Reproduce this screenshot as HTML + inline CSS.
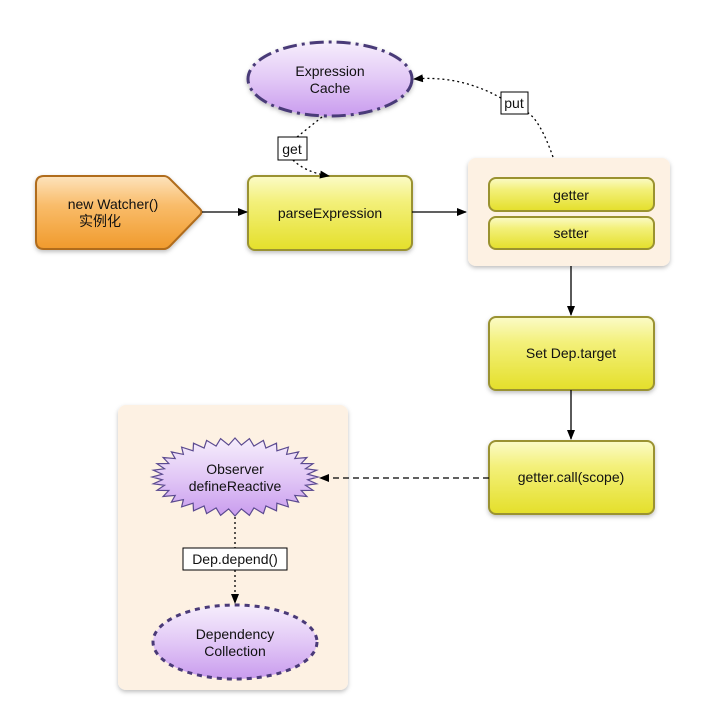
<!DOCTYPE html>
<html><head><meta charset="utf-8"><style>
html,body{margin:0;padding:0;background:#fff;}
svg{display:block;}
text{font-family:"Liberation Sans","Noto Sans CJK SC",sans-serif;font-size:14px;fill:#111;text-anchor:middle;}
</style></head><body>
<svg id="s" width="720" height="724" viewBox="0 0 720 724" xmlns="http://www.w3.org/2000/svg">
<defs>
<linearGradient id="yel" x1="0" y1="0" x2="0" y2="1">
<stop offset="0" stop-color="#fbfbc8"/><stop offset="0.35" stop-color="#f3f07a"/><stop offset="1" stop-color="#e4df2a"/></linearGradient>
<linearGradient id="org" x1="0" y1="0" x2="0" y2="1">
<stop offset="0" stop-color="#fde3bd"/><stop offset="0.4" stop-color="#f9bc6a"/><stop offset="1" stop-color="#f09a2c"/></linearGradient>
<linearGradient id="pur" x1="0" y1="0" x2="0" y2="1">
<stop offset="0" stop-color="#f6eefc"/><stop offset="0.5" stop-color="#e2c8f6"/><stop offset="1" stop-color="#c99cee"/></linearGradient>
<marker id="ah" markerWidth="10" markerHeight="8" refX="9" refY="4" orient="auto" markerUnits="userSpaceOnUse">
<path d="M0,0 L10,4 L0,8 z" fill="#000"/></marker>
<filter id="sh" x="-10%" y="-10%" width="120%" height="130%"><feDropShadow dx="0" dy="2" stdDeviation="2" flood-color="#000" flood-opacity="0.25"/></filter>
</defs>

<rect x="468" y="158" width="202" height="108" rx="8" fill="#fdf1e3" filter="url(#sh)"/>
<rect x="118" y="405" width="230" height="285" rx="8" fill="#fdf1e3" filter="url(#sh)"/>

<ellipse cx="330" cy="79" rx="82" ry="37" fill="url(#pur)" stroke="#4a3a78" stroke-width="3" stroke-dasharray="14,5,3,5" filter="url(#sh)"/>
<text x="330" y="76">Expression</text><text x="330" y="93">Cache</text>

<path d="M44,176 L164,176 Q167,176 170,179 L200,209 Q203,212 200,215 L170,246 Q167,249 164,249 L44,249 Q36,249 36,241 L36,184 Q36,176 44,176 z" fill="url(#org)" stroke="#b06c1c" stroke-width="2" filter="url(#sh)"/>
<text x="113" y="209">new Watcher()</text><text x="100" y="226">实例化</text>

<rect x="248" y="176" width="164" height="74" rx="7" fill="url(#yel)" stroke="#9a9230" stroke-width="2" filter="url(#sh)"/>
<text x="330" y="218">parseExpression</text>

<rect x="489" y="178" width="165" height="33" rx="7" fill="url(#yel)" stroke="#9a9230" stroke-width="2"/>
<text x="571" y="200">getter</text>
<rect x="489" y="217" width="165" height="32" rx="7" fill="url(#yel)" stroke="#9a9230" stroke-width="2"/>
<text x="571" y="238">setter</text>

<rect x="489" y="317" width="165" height="73" rx="7" fill="url(#yel)" stroke="#9a9230" stroke-width="2" filter="url(#sh)"/>
<text x="571" y="358">Set Dep.target</text>

<rect x="489" y="441" width="165" height="73" rx="7" fill="url(#yel)" stroke="#9a9230" stroke-width="2" filter="url(#sh)"/>
<text x="571" y="482">getter.call(scope)</text>

<polygon id="star" fill="url(#pur)" stroke="#5b4a90" stroke-width="1.2" points=""/>
<text x="235" y="474">Observer</text><text x="235" y="491">defineReactive</text>

<ellipse cx="235" cy="642" rx="82" ry="37" fill="url(#pur)" stroke="#4a3a78" stroke-width="3" stroke-dasharray="5,5"/>
<text x="235" y="639">Dependency</text><text x="235" y="656">Collection</text>

<line x1="202" y1="212" x2="247" y2="212" stroke="#000" stroke-width="1.3" marker-end="url(#ah)"/>
<line x1="412" y1="212" x2="466" y2="212" stroke="#000" stroke-width="1.3" marker-end="url(#ah)"/>
<line x1="571" y1="266" x2="571" y2="315" stroke="#000" stroke-width="1.3" marker-end="url(#ah)"/>
<line x1="571" y1="390" x2="571" y2="439" stroke="#000" stroke-width="1.3" marker-end="url(#ah)"/>
<line x1="489" y1="478" x2="320" y2="478" stroke="#000" stroke-width="1.3" stroke-dasharray="6,4" marker-end="url(#ah)"/>
<line x1="235" y1="517" x2="235" y2="548" stroke="#000" stroke-width="1.3" stroke-dasharray="2,3"/>
<line x1="235" y1="570" x2="235" y2="603" stroke="#000" stroke-width="1.3" stroke-dasharray="2,3" marker-end="url(#ah)"/>
<path d="M553,157 Q540,120 527,112" fill="none" stroke="#000" stroke-width="1.3" stroke-dasharray="2,3"/>
<path d="M501,98 Q460,75 414,79" fill="none" stroke="#000" stroke-width="1.3" stroke-dasharray="2,3" marker-end="url(#ah)"/>
<path d="M322,117 L297,137" fill="none" stroke="#000" stroke-width="1.3" stroke-dasharray="2,3"/>
<path d="M293,160 Q305,172 329,176" fill="none" stroke="#000" stroke-width="1.3" stroke-dasharray="2,3" marker-end="url(#ah)"/>

<rect x="278" y="137" width="29" height="23" fill="#fff" stroke="#000" stroke-width="1"/>
<text x="292" y="154" style="font-size:14px">get</text>
<rect x="501" y="92" width="27" height="22" fill="#fff" stroke="#000" stroke-width="1"/>
<text x="514" y="108" style="font-size:14px">put</text>
<rect x="183" y="548" width="104" height="22" fill="#fff" stroke="#000" stroke-width="1"/>
<text x="235" y="564" style="font-size:14px">Dep.depend()</text>
</svg>
<script>
(function(){var cx=235,cy=477,R=[83,39],r=[73,32],n=36,p=[];
for(var i=0;i<2*n;i++){var a=Math.PI*i/n;var o=i%2==0;var rx=o?R[0]:r[0],ry=o?R[1]:r[1];
p.push((cx+rx*Math.cos(a)).toFixed(1)+","+(cy+ry*Math.sin(a)).toFixed(1));}
document.getElementById("star").setAttribute("points",p.join(" "));})();
</script>
</body></html>
